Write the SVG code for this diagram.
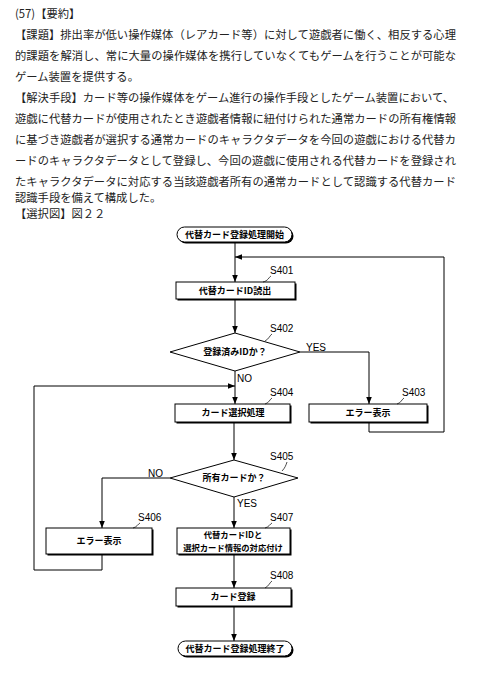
<svg xmlns="http://www.w3.org/2000/svg" width="480" height="687" viewBox="0 0 480 687">
<defs>
<marker id="ah" viewBox="0 0 10 10" refX="10" refY="5" markerWidth="7" markerHeight="7" markerUnits="userSpaceOnUse" orient="auto">
<path d="M0,1 L10,5 L0,9 Z" fill="#000"/>
</marker>
<style>
.t{font-family:"Noto Sans CJK JP","Noto Sans",sans-serif;font-size:11.3px;fill:#222}
.n{font-family:"Noto Sans CJK JP","Noto Sans",sans-serif;font-size:9px;font-weight:bold;fill:#000;text-anchor:middle}
.n2{font-size:8.3px}
.s{font-family:"Liberation Sans","Noto Sans CJK JP",sans-serif;font-size:10px;fill:#000}
.box{fill:#fff;stroke:#000;stroke-width:1}
.sh{fill:#000}
.ln{fill:none;stroke:#000;stroke-width:1}
.ld{fill:none;stroke:#000;stroke-width:0.7}
</style>
</defs>
<rect width="480" height="687" fill="#fff"/>
<g id="abstract">
<text class="t" x="15" y="18">(57)【要約】</text>
<text class="t" x="15" y="39" textLength="441" lengthAdjust="spacing">【課題】排出率が低い操作媒体（レアカード等）に対して遊戯者に働く、相反する心理</text>
<text class="t" x="15" y="60" textLength="441" lengthAdjust="spacing">的課題を解消し、常に大量の操作媒体を携行していなくてもゲームを行うことが可能な</text>
<text class="t" x="15" y="81">ゲーム装置を提供する。</text>
<text class="t" x="15" y="102">【解決手段】カード等の操作媒体をゲーム進行の操作手段としたゲーム装置において、</text>
<text class="t" x="15" y="123" textLength="441" lengthAdjust="spacing">遊戯に代替カードが使用されたとき遊戯者情報に紐付けられた通常カードの所有権情報</text>
<text class="t" x="15" y="144" textLength="441" lengthAdjust="spacing">に基づき遊戯者が選択する通常カードのキャラクタデータを今回の遊戯における代替カ</text>
<text class="t" x="15" y="165" textLength="441" lengthAdjust="spacing">ードのキャラクタデータとして登録し、今回の遊戯に使用される代替カードを登録され</text>
<text class="t" x="15" y="186" textLength="441" lengthAdjust="spacing">たキャラクタデータに対応する当該遊戯者所有の通常カードとして認識する代替カード</text>
<text class="t" x="15" y="202">認識手段を備えて構成した。</text>
<text class="t" x="15" y="218">【選択図】図２２</text>
</g>
<g id="connectors">
<path class="ln" d="M235,242 V282" marker-end="url(#ah)"/>
<path class="ln" d="M235,299 V333" marker-end="url(#ah)"/>
<path class="ln" d="M300,352 H369 V404" marker-end="url(#ah)"/>
<path class="ln" d="M369,422 V432 H444 V257 H235" marker-end="url(#ah)"/>
<path class="ln" d="M235,371 V404" marker-end="url(#ah)"/>
<path class="ln" d="M102,554 V570 H34 V386 H235" marker-end="url(#ah)"/>
<path class="ln" d="M234,422 V460" marker-end="url(#ah)"/>
<path class="ln" d="M170,478 H102 V528" marker-end="url(#ah)"/>
<path class="ln" d="M234,497 V528" marker-end="url(#ah)"/>
<path class="ln" d="M234,554 V588" marker-end="url(#ah)"/>
<path class="ln" d="M234,606 V641" marker-end="url(#ah)"/>
<text class="s" x="306" y="351">YES</text>
<text class="s" x="237" y="382">NO</text>
<text class="s" x="148" y="477">NO</text>
<text class="s" x="237" y="507">YES</text>
</g>
<g id="start">
<rect class="sh" x="178.5" y="228.5" width="115" height="15" rx="7.5"/>
<rect class="box" x="177" y="227" width="115" height="15" rx="7.5"/>
<text class="n" x="234.5" y="238">代替カード登録処理開始</text>
</g>
<g id="S401">
<rect class="sh" x="177.5" y="283.5" width="119" height="17"/>
<rect class="box" x="176" y="282" width="119" height="17"/>
<text class="n" x="235" y="294">代替カードID読出</text>
<text class="s" x="270" y="274">S401</text>
<path class="ld" d="M271,276 c-2,1 -3,5 -8,6"/>
</g>
<g id="S402">
<path class="box" d="M235,333 L300,352 L235,371 L170,352 Z" stroke-width="1.2"/>
<text class="n" x="235" y="355">登録済みIDか？</text>
<text class="s" x="270" y="332">S402</text>
<path class="ld" d="M272,334 c-2,1 -3,5 -7,7"/>
</g>
<g id="S403">
<rect class="sh" x="310.5" y="405.5" width="118" height="18"/>
<rect class="box" x="309" y="404" width="118" height="18"/>
<text class="n" x="368" y="416">エラー表示</text>
<text class="s" x="402" y="396">S403</text>
<path class="ld" d="M404,398 c-2,1 -3,5 -7,6"/>
</g>
<g id="S404">
<rect class="sh" x="176.5" y="405.5" width="115" height="18"/>
<rect class="box" x="175" y="404" width="115" height="18"/>
<text class="n" x="233" y="416">カード選択処理</text>
<text class="s" x="270" y="396">S404</text>
<path class="ld" d="M272,398 c-2,1 -3,5 -7,6"/>
</g>
<g id="S405">
<path class="box" d="M234,460 L298,478 L234,497 L170,478 Z" stroke-width="1.2"/>
<text class="n" x="234" y="481">所有カードか？</text>
<text class="s" x="270" y="460">S405</text>
<path class="ld" d="M287,462 c-1,3 -2,6 -5,9"/>
</g>
<g id="S406">
<rect class="sh" x="47.5" y="529.5" width="106" height="26"/>
<rect class="box" x="46" y="528" width="106" height="26"/>
<text class="n" x="99" y="544">エラー表示</text>
<text class="s" x="138" y="521">S406</text>
<path class="ld" d="M140,523 c-2,1 -3,4 -7,5"/>
</g>
<g id="S407">
<rect class="sh" x="178.5" y="529.5" width="113" height="26"/>
<rect class="box" x="177" y="528" width="113" height="26"/>
<text class="n n2" x="233" y="538">代替カードIDと</text>
<text class="n n2" x="233" y="550.5">選択カード情報の対応付け</text>
<text class="s" x="270" y="521">S407</text>
<path class="ld" d="M272,523 c-2,1 -3,4 -7,5"/>
</g>
<g id="S408">
<rect class="sh" x="177.5" y="589.5" width="115" height="18"/>
<rect class="box" x="176" y="588" width="115" height="18"/>
<text class="n" x="233" y="600">カード登録</text>
<text class="s" x="270" y="579">S408</text>
<path class="ld" d="M272,581 c-2,1 -3,5 -7,7"/>
</g>
<g id="end">
<rect class="sh" x="179.5" y="642.5" width="114" height="15" rx="7.5"/>
<rect class="box" x="178" y="641" width="114" height="15" rx="7.5"/>
<text class="n" x="235" y="652">代替カード登録処理終了</text>
</g>
</svg>
